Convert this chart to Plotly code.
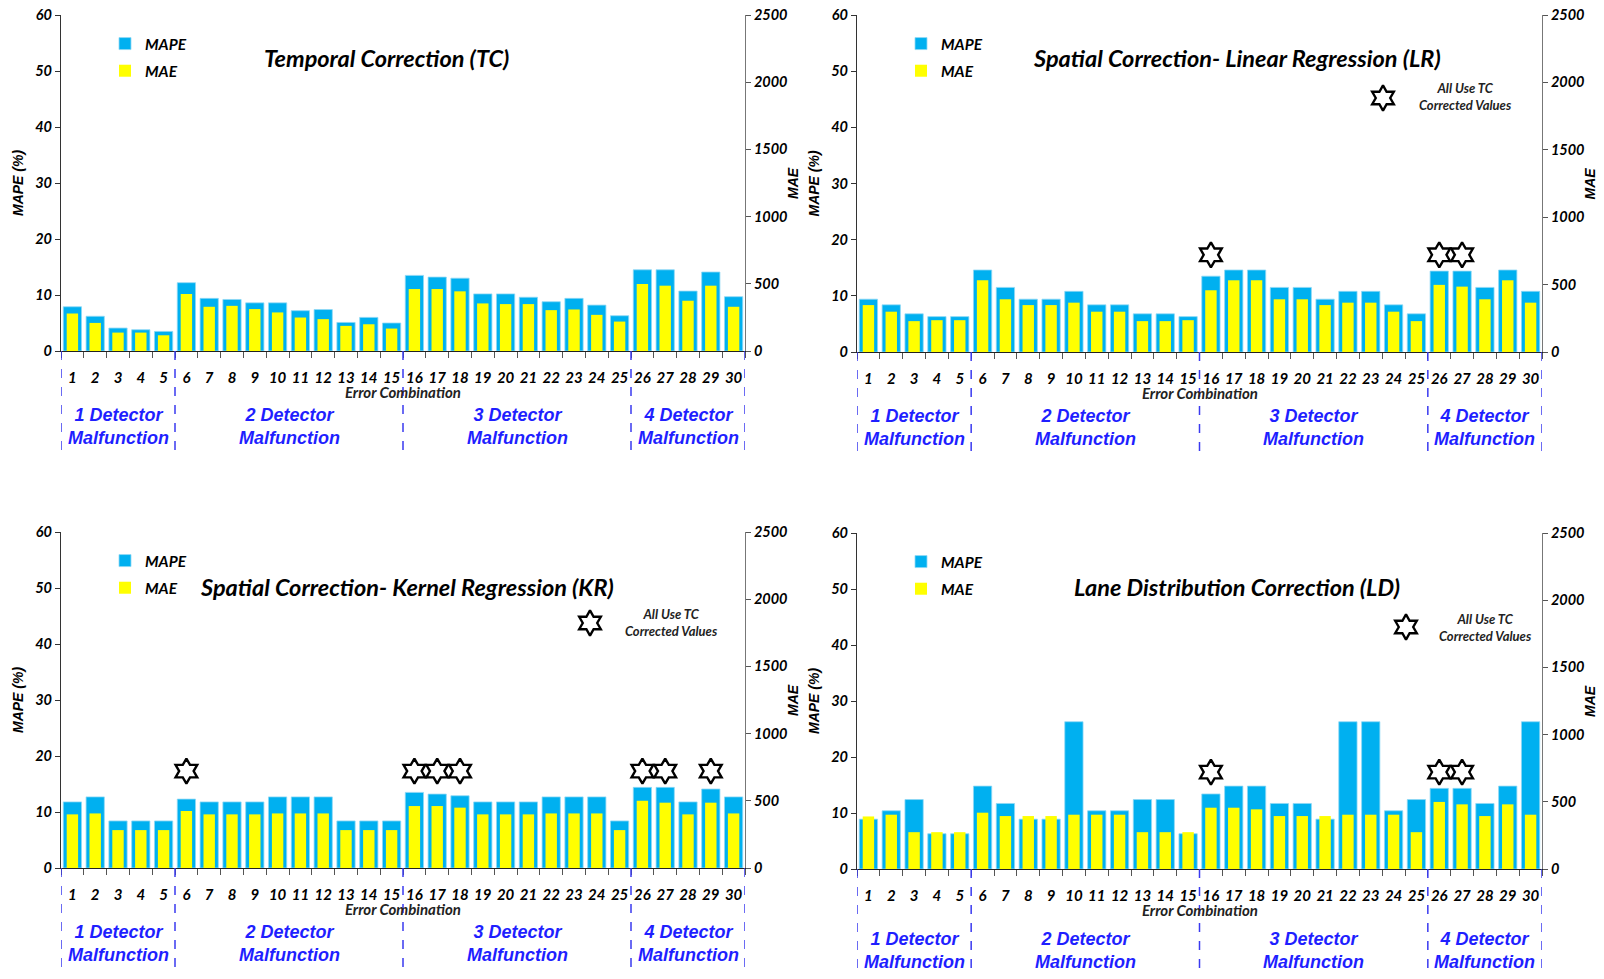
import plotly.graph_objects as go

# ---------------- data ----------------
categories = list(range(1, 31))
tick_labels = [str(c) for c in categories]

tc_mape = [7.9, 6.2, 4.1, 3.8, 3.5, 12.2, 9.4, 9.2, 8.6, 8.6, 7.2, 7.4, 5.1, 6.0, 5.0,
           13.5, 13.2, 13.0, 10.2, 10.2, 9.6, 8.8, 9.4, 8.2, 6.3, 14.5, 14.5, 10.7, 14.1, 9.7]
tc_mae = [279, 209, 137, 137, 117, 424, 329, 336, 312, 287, 249, 237, 187, 199, 167,
          461, 461, 444, 354, 349, 349, 304, 309, 269, 219, 499, 486, 374, 486, 329]

lr_mape = [9.4, 8.4, 6.8, 6.3, 6.3, 14.6, 11.5, 9.4, 9.4, 10.8, 8.4, 8.4, 6.8, 6.8, 6.3,
           13.5, 14.6, 14.6, 11.5, 11.5, 9.4, 10.8, 10.8, 8.4, 6.8, 14.4, 14.4, 11.5, 14.6, 10.8]
lr_mae = [348, 299, 229, 236, 236, 532, 391, 348, 348, 366, 299, 299, 229, 229, 236,
          458, 532, 532, 391, 391, 348, 366, 366, 299, 229, 498, 485, 391, 532, 366]

kr_mape = [11.8, 12.7, 8.4, 8.4, 8.4, 12.3, 11.8, 11.8, 11.8, 12.7, 12.7, 12.7, 8.4, 8.4, 8.4,
           13.5, 13.2, 12.9, 11.8, 11.8, 11.8, 12.7, 12.7, 12.7, 8.4, 14.4, 14.4, 11.8, 14.1, 12.7]
kr_mae = [399, 406, 282, 282, 282, 424, 399, 399, 399, 406, 406, 406, 282, 282, 282,
          461, 461, 449, 399, 399, 399, 406, 406, 406, 282, 501, 486, 399, 486, 406]

ld_mape = [8.9, 10.4, 12.4, 6.3, 6.3, 14.8, 11.7, 8.9, 8.9, 26.3, 10.4, 10.4, 12.4, 12.4, 6.3,
           13.4, 14.8, 14.8, 11.7, 11.7, 8.9, 26.3, 26.3, 10.4, 12.4, 14.4, 14.4, 11.7, 14.8, 26.3]
ld_mae = [391, 404, 274, 274, 274, 419, 394, 394, 394, 404, 404, 404, 274, 274, 274,
          456, 456, 444, 394, 394, 394, 404, 404, 404, 274, 499, 481, 394, 481, 404]

lr_stars = [16, 26, 27]
kr_stars = [6, 16, 17, 18, 26, 27, 29]
ld_stars = [16, 26, 27]

group_labels = ["1 Detector<br>Malfunction", "2 Detector<br>Malfunction",
                "3 Detector<br>Malfunction", "4 Detector<br>Malfunction"]
group_bounds = [0.5, 5.5, 15.5, 25.5, 30.5]

titles = ["Temporal Correction (TC)",
          "Spatial Correction- Linear Regression (LR)",
          "Spatial Correction- Kernel Regression (KR)",
          "Lane Distribution Correction (LD)"]

# ---------------- layout helpers ----------------
W, H = 1604, 979
def fx(px): return px / W
def fy(py): return 1 - py / H

BLUE = "#00B0F0"
YELLOW = "#FFFF00"
GROUP_BLUE = "#1F1FFF"
FONT = "Lato, 'Open Sans', sans-serif"
ARIAL = "'Liberation Sans', Arial, sans-serif"

panels = [
    dict(title=titles[0], mape=tc_mape, mae=tc_mae, stars=None, tcx=386,
         box=(61, 745, 15, 351), title_y=58, note=None, grp_dy=(64, 87)),
    dict(title=titles[1], mape=lr_mape, mae=lr_mae, stars=lr_stars, tcx=1237,
         box=(857, 1542, 15, 352), title_y=58, note=((1383, 98), (1465, 97)), grp_dy=(64, 87)),
    dict(title=titles[2], mape=kr_mape, mae=kr_mae, stars=kr_stars, tcx=407,
         box=(61, 745, 532, 868), title_y=587, note=((590, 623), (671, 622)), grp_dy=(64, 87)),
    dict(title=titles[3], mape=ld_mape, mae=ld_mae, stars=ld_stars, tcx=1237,
         box=(857, 1542, 533, 869), title_y=587, note=((1406, 627), (1485, 627)), grp_dy=(70, 92)),
]

fig = go.Figure()
layout = dict(width=W, height=H, margin=dict(l=0, r=0, t=0, b=0, autoexpand=False),
              paper_bgcolor="white", plot_bgcolor="white",
              barmode="overlay", showlegend=True)
annotations = []
shapes = []

STAR_Y = 17.3
star_marker = dict(symbol="hexagram-open", size=19, color="black",
                   line=dict(width=2.4, color="black"))

def ann(x, y, text, font, **kw):
    d = dict(x=x, y=y, xref="paper", yref="paper", text=text, showarrow=False,
             xanchor="center", yanchor="middle", font=font)
    d.update(kw)
    annotations.append(d)

for k, p in enumerate(panels, start=1):
    x0, x1, top, bot = p["box"]
    xa = "x" if k == 1 else f"x{k}"
    yl = "y" if k == 1 else f"y{2*k-1}"
    yr = f"y{2*k}"
    lg = "legend" if k == 1 else f"legend{k}"

    fig.add_trace(go.Bar(x=categories, y=p["mape"], name="MAPE", xaxis=xa, yaxis=yl,
                         marker=dict(color=BLUE, line=dict(color="#8FD8F5", width=0.8)),
                         width=0.8, legend=lg, legendgroup=f"a{k}"))
    fig.add_trace(go.Bar(x=categories, y=p["mae"], name="MAE", xaxis=xa, yaxis=yr,
                         marker=dict(color=YELLOW, line=dict(width=0)),
                         width=0.5, legend=lg, legendgroup=f"b{k}"))

    if p["stars"]:
        fig.add_trace(go.Scatter(x=p["stars"], y=[STAR_Y] * len(p["stars"]), mode="markers",
                                 xaxis=xa, yaxis=yl, showlegend=False, hoverinfo="skip",
                                 marker=star_marker))
    if p["note"]:
        (sx, sy), (tx, ty) = p["note"]
        xd = 0.5 + (sx - x0) / (x1 - x0) * 30
        yd = (bot - sy) / (bot - top) * 60
        fig.add_trace(go.Scatter(x=[xd], y=[yd], mode="markers", xaxis=xa, yaxis=yl,
                                 showlegend=False, hoverinfo="skip", marker=star_marker))
        ann(fx(tx), fy(ty), "All Use TC<br>Corrected Values",
            dict(family=FONT, size=13, color="#222", weight="bold", style="italic"))

    xdom = [fx(x0), fx(x1)]
    ydom = [fy(bot), fy(top)]
    xkey = "xaxis" if k == 1 else f"xaxis{k}"
    ylkey = "yaxis" if k == 1 else f"yaxis{2*k-1}"
    yrkey = f"yaxis{2*k}"

    layout[xkey] = dict(domain=xdom, anchor=yl, range=[0.5, 30.5], automargin=False,
                        tickmode="array", tickvals=categories, ticktext=tick_labels,
                        ticks="", ticklabelstandoff=13, showline=True, linecolor="#222",
                        linewidth=1.4, showgrid=False, zeroline=False, fixedrange=True,
                        tickfont=dict(family=FONT, size=15, color="black", weight="bold",
                                      style="italic"),
                        minor=dict(tickmode="array", tickvals=[0.5] + [c + 0.5 for c in categories],
                                   ticks="outside", ticklen=6, tickcolor="#555", tickwidth=1))
    layout[ylkey] = dict(domain=ydom, anchor=xa, range=[0, 60], dtick=10, automargin=False,
                         ticks="outside", ticklen=5, tickcolor="#333", showline=True,
                         linecolor="#333", linewidth=1.2, showgrid=False, zeroline=False,
                         tickfont=dict(family=FONT, size=14.5, color="black", weight="bold",
                                       style="italic"))
    layout[yrkey] = dict(overlaying=yl, anchor=xa, side="right", range=[0, 2500], dtick=500,
                         automargin=False,
                         ticks="outside", ticklen=5, tickcolor="#555", showline=True,
                         linecolor="#777", linewidth=1, showgrid=False, zeroline=False,
                         tickfont=dict(family=FONT, size=14.5, color="black", weight="bold",
                                       style="italic"))
    # axis titles
    ann(fx(x0 - 43), fy((top + bot) / 2), "MAPE (%)",
        dict(family=ARIAL, size=14, color="black", weight="bold", style="italic"), textangle=-90)
    ann(fx(x1 + 48), fy((top + bot) / 2), "MAE",
        dict(family=ARIAL, size=14, color="black", weight="bold", style="italic"), textangle=-90)
    # panel title
    ann(fx(p["tcx"]), fy(p["title_y"]), p["title"],
        dict(family=FONT, size=23.5, color="black", weight="bold", style="italic"))
    # legend
    layout[lg] = dict(x=fx(x0 + 44), y=fy(top + 12), xanchor="left", yanchor="top",
                      bgcolor="rgba(0,0,0,0)", tracegroupgap=4, itemwidth=30,
                      font=dict(family=FONT, size=15.5, color="black", weight="bold",
                                style="italic"))
    # Error Combination
    ann(fx((x0 + x1) / 2), fy(bot + 41), "Error Combination",
        dict(family=FONT, size=15, color="#222", weight="bold", style="italic"))
    # group labels & dashed dividers
    for g, lab in enumerate(group_labels):
        cx = (group_bounds[g] + group_bounds[g + 1]) / 2
        annotations.append(dict(x=cx, xref=xa, y=fy(bot + (p["grp_dy"][0] + p["grp_dy"][1]) / 2),
                                yref="paper", text=lab, showarrow=False, xanchor="center",
                                yanchor="middle",
                                font=dict(family=ARIAL, size=18, color=GROUP_BLUE,
                                          weight="bold", style="italic"), align="center"))
    for b in group_bounds:
        shapes.append(dict(type="line", xref=xa, yref="paper", x0=b, x1=b,
                           y0=fy(bot), y1=fy(bot + 108),
                           line=dict(color="#3A3AF0", width=1.5, dash="dash")))

layout["annotations"] = annotations
layout["shapes"] = shapes
fig.update_layout(**layout)
fig.write_html("out.html")
